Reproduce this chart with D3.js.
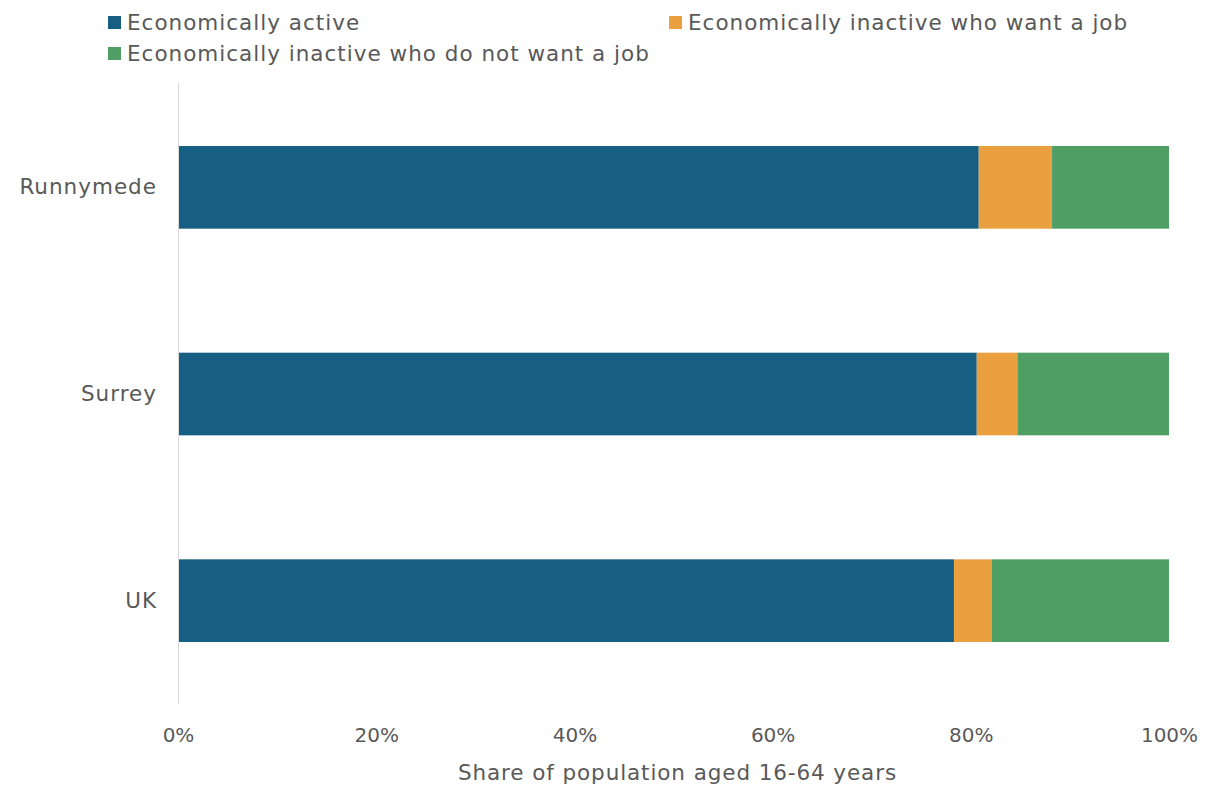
<!DOCTYPE html>
<html>
<head>
<meta charset="utf-8">
<script src="https://cdn.jsdelivr.net/npm/d3@7"></script>
<style>
  body { margin: 0; background: #fff; }
  text { font-family: "DejaVu Sans", sans-serif; fill: #595959; }
</style>
</head>
<body>
<div id="chart"></div>
<script>
// data
const regions = ["Runnymede", "Surrey", "UK"];
const seriesNames = ["Economically active", "Economically inactive who want a job", "Economically inactive who do not want a job"];
const active = [80.8, 80.6, 78.3];
const inactiveWant = [7.4, 4.1, 3.8];
const inactiveNotWant = [11.8, 15.3, 17.9];
const tickValues = [0, 20, 40, 60, 80, 100];
const colors = ["#175f82", "#eaa03f", "#4f9f65"];

const width = 1211, height = 787;
const margins = { top: 84, right: 42, bottom: 83, left: 178 };
const chartWidth = width - margins.left - margins.right;
const chartHeight = height - margins.top - margins.bottom;

const rows = regions.map((r, i) => ({
  region: r,
  s0: active[i],
  s1: inactiveWant[i],
  s2: inactiveNotWant[i]
}));
const stacked = d3.stack().keys(["s0", "s1", "s2"])(rows);

// SCALES
const xScale = d3.scaleLinear().domain([0, 100]).range([0, chartWidth]);
const yScale = d3.scaleBand()
  .domain(regions)
  .range([0, chartHeight])
  .paddingInner(0.6)
  .paddingOuter(0.3);

const svg = d3.select("#chart")
  .append("svg")
  .attr("width", width)
  .attr("height", height);

const mainG = svg.append("g")
  .attr("transform", `translate(${margins.left}, ${margins.top})`);

// bars
mainG.selectAll(".series")
  .data(stacked)
  .enter()
  .append("g")
  .attr("fill", (d, i) => colors[i])
  .selectAll("rect")
  .data((d) => d)
  .enter()
  .append("rect")
  .attr("x", (d) => xScale(d[0]))
  .attr("y", (d) => yScale(d.data.region))
  .attr("width", (d) => xScale(d[1]) - xScale(d[0]))
  .attr("height", yScale.bandwidth());

// vertical axis line
mainG.append("line")
  .attr("x1", 0.5).attr("x2", 0.5)
  .attr("y1", -1).attr("y2", chartHeight)
  .attr("stroke", "#d9d9d9");

// x axis
const xAxis = d3.axisBottom(xScale)
  .tickValues(tickValues)
  .tickFormat((d) => d + "%")
  .tickSize(0)
  .tickPadding(24);
const xg = mainG.append("g")
  .attr("transform", `translate(0, ${chartHeight})`)
  .call(xAxis);
xg.select(".domain").remove();
xg.selectAll("text").style("font-size", "20px").attr("fill", "#595959");

// y axis
const yAxis = d3.axisLeft(yScale).tickSize(0).tickPadding(21);
const yg = mainG.append("g").call(yAxis);
yg.select(".domain").remove();
yg.selectAll("text")
  .style("font-size", "21.5px")
  .style("letter-spacing", "1px")
  .attr("fill", "#595959");

// axis title
svg.append("text")
  .attr("x", margins.left + chartWidth / 2 + 4)
  .attr("y", 780)
  .attr("text-anchor", "middle")
  .style("font-size", "21.5px")
  .style("letter-spacing", "0.9px")
  .text("Share of population aged 16-64 years");

// legend
const legendPos = [[108, 22], [669, 22], [108, 53]];
const legend = svg.selectAll(".legend")
  .data(seriesNames)
  .enter()
  .append("g")
  .attr("transform", (d, i) => `translate(${legendPos[i][0]}, ${legendPos[i][1]})`);
legend.append("rect")
  .attr("x", 0).attr("y", -6)
  .attr("width", 13).attr("height", 13)
  .attr("fill", (d, i) => colors[i]);
legend.append("text")
  .attr("x", 19)
  .attr("y", 0)
  .attr("dy", "0.35em")
  .style("font-size", "21.5px")
  .style("letter-spacing", "1px")
  .text((d) => d);
</script>
</body>
</html>
